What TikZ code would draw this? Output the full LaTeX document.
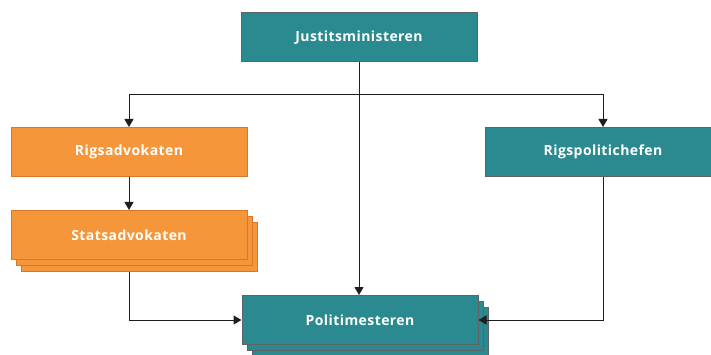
\documentclass[tikz,border=0pt]{standalone}
\usepackage{fontspec}
\setmainfont{Open Sans}[LetterSpace=3]
\usepackage{tikz}
\usetikzlibrary{arrows.meta, positioning, shadows, backgrounds}
\definecolor{petrol}{HTML}{2A8A8F}
\definecolor{petrolline}{HTML}{5E6466}
\definecolor{amber}{HTML}{F5963A}
\definecolor{amberline}{HTML}{D9772A}
\definecolor{wire}{HTML}{1E1E1E}

\tikzset{
    unit/.style={minimum width=236pt, minimum height=49pt, inner sep=0pt,
        text=white, font=\fontsize{14}{16}\selectfont\bfseries, line width=1pt},
    policebox/.style={unit, fill=petrol, draw=petrolline},
    prosecbox/.style={unit, fill=amber, draw=amberline},
    stacked/.style={double copy shadow={shadow xshift=5pt, shadow yshift=-6pt}},
    link/.style={wire, line width=1pt},
    linkarrow/.style={link, -{Triangle[length=8pt, width=9pt]}}
}

\begin{document}
\begin{tikzpicture}[x=1pt, y=-1pt]
    \useasboundingbox (0,0) rectangle (711,355);
    % boxes
    \node[policebox] (jm) at (359,37.5) {Justitsministeren};
    \node[prosecbox] (ra) at (129,152) {Rigsadvokaten};
    \node[prosecbox, stacked] (sa) at (129,235) {Statsadvokaten};
    \node[policebox] (rp) at (603,152) {Rigspolitichefen};
    \node[policebox, stacked] (pm) at (360,320) {Politimesteren};
    % connectors
    \coordinate (split) at (jm.south |- 0,95);
    \draw[link] (jm.south) -- (split);
    \draw[linkarrow] (split) -| (ra.north);
    \draw[linkarrow] (split) -| (rp.north);
    \draw[linkarrow] (split) -- (split |- pm.north);
    \draw[linkarrow] (ra.south) -- (sa.north);
    \begin{scope}[on background layer]
        \draw[linkarrow] (sa.south) |- (pm.west);
    \end{scope}
    \draw[linkarrow] (rp.south) |- (pm.east);
\end{tikzpicture}
\end{document}
